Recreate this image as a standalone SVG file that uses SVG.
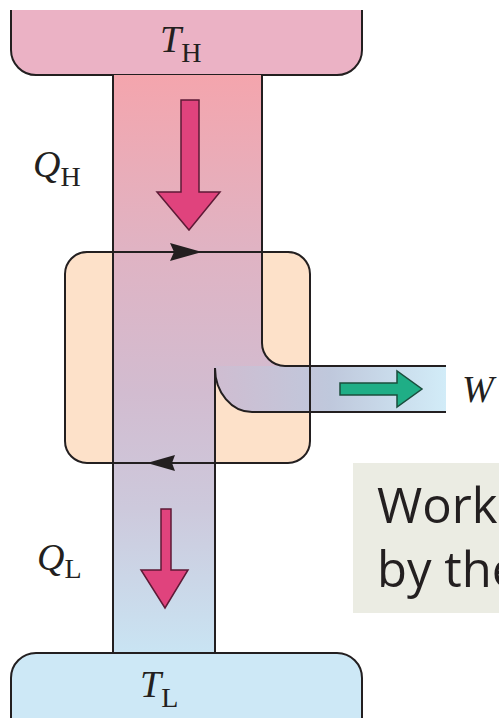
<svg xmlns="http://www.w3.org/2000/svg" width="499" height="718" viewBox="0 0 499 718">
<defs>
<linearGradient id="flowV" gradientUnits="userSpaceOnUse" x1="0" y1="75" x2="0" y2="653">
<stop offset="0" stop-color="#f4a5ad"/>
<stop offset="0.3" stop-color="#e0b3c3"/>
<stop offset="0.55" stop-color="#d2bcd0"/>
<stop offset="0.75" stop-color="#cdc9dc"/>
<stop offset="1" stop-color="#c9e4f3"/>
</linearGradient>
<linearGradient id="flowH" gradientUnits="userSpaceOnUse" x1="215" y1="0" x2="446" y2="0">
<stop offset="0" stop-color="#cfbdd1"/>
<stop offset="0.5" stop-color="#bfc8dc"/>
<stop offset="1" stop-color="#d2ecf8"/>
</linearGradient>
<style>
.ln{fill:none;stroke:#231f20;stroke-width:2}
.sym{font-family:"Liberation Serif",serif;font-style:italic;font-size:38px;fill:#231f20}
.sub{font-family:"Liberation Serif",serif;font-style:normal;font-size:28px;fill:#231f20}
.note{font-family:"Open Sans",sans-serif;font-size:49px;fill:#231f20}
.pink{fill:#e0437d;stroke:#5e1a36;stroke-width:1.5}
</style>
</defs>
<g id="hot-reservoir">
<path d="M11,10 V50 A25,25 0 0 0 36,75 H337 A25,25 0 0 0 362,50 V10 Z" fill="#ebb2c5"/>
<path d="M11,10 V50 A25,25 0 0 0 36,75 H337 A25,25 0 0 0 362,50 V10" class="ln"/>
<text x="160" y="52" class="sym">T<tspan class="sub" dy="10">H</tspan></text>
</g>
<g id="engine">
<rect x="65" y="252" width="245" height="211" rx="22" fill="#fde1c9"/>
</g>
<g id="flow">
<path d="M113,75 H262 V343 A23,23 0 0 0 285,366 H446 V412 H252 A37,44 0 0 1 215,368 V653 H113 Z" fill="url(#flowV)"/>
<path d="M262,366 H446 V412 H252 A37,44 0 0 1 215,368 V366 Z" fill="url(#flowH)"/>
<path d="M262,300 V343 A23,23 0 0 0 285,366 H262 Z" fill="url(#flowV)"/>
</g>
<g id="engine-outline">
<rect x="65" y="252" width="245" height="211" rx="22" class="ln"/>
</g>
<g id="connectors">
<path d="M113,75 V653" class="ln"/>
<path d="M262,75 V343 A23,23 0 0 0 285,366 H446" class="ln"/>
<path d="M446,412 H252 A37,44 0 0 1 215,368 V653" class="ln"/>
<path d="M170,243 L202,252 L170,261 L174,252 Z" fill="#231f20"/>
<path d="M147,463 L175,455 L172,463 L175,471 Z" fill="#231f20"/>
<path d="M181,100 H199 V192 H220 L189,230 L157,192 H181 Z" class="pink"/>
<path d="M161,509 H171 V570 H188 L165,608 L141,570 H161 Z" class="pink"/>
<path d="M340,383 H397 V371 L422,389 L397,407 V395 H340 Z" fill="#1fae86" stroke="#1b4d3d" stroke-width="1.5"/>
</g>
<g id="labels">
<text x="33" y="177" class="sym">Q<tspan class="sub" dy="9">H</tspan></text>
<text x="37" y="570" class="sym">Q<tspan class="sub" dy="8">L</tspan></text>
<text x="462" y="402" class="sym">W</text>
</g>
<g id="cold-reservoir">
<path d="M11,718 V678 A25,25 0 0 1 36,653 H337 A25,25 0 0 1 362,678 V718 Z" fill="#cde8f6"/>
<path d="M11,718 V678 A25,25 0 0 1 36,653 H337 A25,25 0 0 1 362,678 V718" class="ln"/>
<text x="140" y="697" class="sym">T<tspan class="sub" dy="10">L</tspan></text>
</g>
<g id="note">
<rect x="353" y="463" width="146" height="150" fill="#ebece3"/>
<text x="377" y="523" class="note">Work</text>
<text x="377" y="587" class="note">by the</text>
</g>
</svg>
